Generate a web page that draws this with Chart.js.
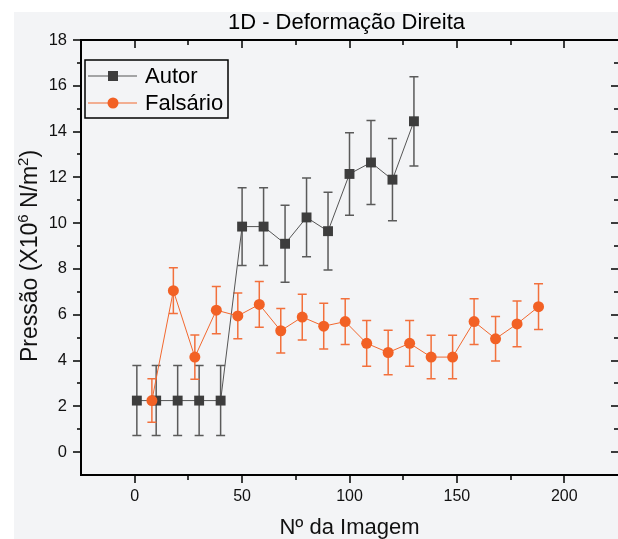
<!DOCTYPE html>
<html>
<head>
<meta charset="utf-8">
<script src="https://cdn.jsdelivr.net/npm/chart.js@4.4.1/dist/chart.umd.min.js"></script>
<style>
  html, body { margin: 0; padding: 0; background: #ffffff; }
  canvas { display: block; }
</style>
</head>
<body>
<canvas id="pressChart" width="618" height="539"></canvas>
<script>
// values
const autorX = [1, 10, 20, 30, 40, 50, 60, 70, 80, 90, 100, 110, 120, 130];
const autorY = [2.25, 2.25, 2.25, 2.25, 2.25, 9.85, 9.85, 9.1, 10.25, 9.65, 12.15, 12.65, 11.9, 14.45];
const autorErr = [1.53, 1.53, 1.53, 1.53, 1.53, 1.7, 1.7, 1.68, 1.72, 1.7, 1.8, 1.83, 1.8, 1.95];

const falsX = [8, 18, 28, 38, 48, 58, 68, 78, 88, 98, 108, 118, 128, 138, 148, 158, 168, 178, 188];
const falsY = [2.25, 7.05, 4.15, 6.2, 5.95, 6.45, 5.3, 5.9, 5.5, 5.7, 4.75, 4.35, 4.75, 4.15, 4.15, 5.7, 4.95, 5.6, 6.35];
const falsErr = [0.95, 1.0, 0.97, 1.03, 1.0, 1.0, 0.97, 1.0, 1.0, 1.0, 1.0, 0.97, 1.0, 0.95, 0.95, 1.0, 0.97, 1.0, 1.0];

const xTicks = [0, 50, 100, 150, 200];
const xMinor = [25, 75, 125, 175];
const yTicks = [0, 2, 4, 6, 8, 10, 12, 14, 16, 18];
const yMinor = [1, 3, 5, 7, 9, 11, 13, 15, 17];

const FONT = "'Liberation Sans', Arial, sans-serif";
const BG = "#f3f4f6";

function toPoints(xs, ys) {
    return xs.map(function (x, i) { return { x: x, y: ys[i] }; });
}

const bgPlugin = {
    id: "bg",
    beforeDraw: function (chart) {
        const ctx = chart.ctx;
        ctx.save();
        ctx.fillStyle = "#ffffff";
        ctx.fillRect(0, 0, chart.width, chart.height);
        ctx.fillStyle = BG;
        ctx.fillRect(14, 12, chart.width - 14, chart.height - 12);
        ctx.restore();
    }
};

// error bars, drawn under the markers
const errorBars = {
    id: "errorBars",
    beforeDatasetsDraw: function (chart) {
        const ctx = chart.ctx;
        const ys = chart.scales.y;
        ctx.save();
        chart.data.datasets.forEach(function (ds, i) {
            const meta = chart.getDatasetMeta(i);
            ctx.strokeStyle = ds.errColor;
            ctx.lineWidth = 1.5;
            meta.data.forEach(function (pt, j) {
                const v = ds.data[j].y;
                const e = ds.err[j];
                const top = ys.getPixelForValue(v + e);
                const bot = ys.getPixelForValue(v - e);
                ctx.beginPath();
                ctx.moveTo(pt.x, top);
                ctx.lineTo(pt.x, bot);
                ctx.moveTo(pt.x - 4.5, top);
                ctx.lineTo(pt.x + 4.5, top);
                ctx.moveTo(pt.x - 4.5, bot);
                ctx.lineTo(pt.x + 4.5, bot);
                ctx.stroke();
            });
        });
        ctx.restore();
    }
};

// y title with real superscripts
function drawYTitle(ctx, x, cy) {
    const parts = [
        ["Pressão (X10", 23, 0],
        ["6", 15, -9],
        [" N/m", 23, 0],
        ["2", 15, -9],
        [")", 23, 0]
    ];
    let total = 0;
    parts.forEach(function (p) {
        ctx.font = p[1] + "px " + FONT;
        p.push(ctx.measureText(p[0]).width);
        total += p[3];
    });
    ctx.save();
    ctx.translate(x, cy);
    ctx.rotate(-Math.PI / 2);
    ctx.fillStyle = "#111111";
    ctx.textAlign = "left";
    ctx.textBaseline = "alphabetic";
    let pos = -total / 2;
    parts.forEach(function (p) {
        ctx.font = p[1] + "px " + FONT;
        ctx.fillText(p[0], pos, p[2]);
        pos += p[3];
    });
    ctx.restore();
}

// frame, ticks, title and legend
const framePlugin = {
    id: "frame",
    afterDraw: function (chart) {
        const ctx = chart.ctx;
        const a = chart.chartArea;
        const xs = chart.scales.x;
        const ys = chart.scales.y;
        ctx.save();
        ctx.strokeStyle = "#000000";
        ctx.lineWidth = 2;
        ctx.beginPath();
        ctx.moveTo(a.left, a.top);
        ctx.lineTo(a.right, a.top);
        ctx.moveTo(a.left, a.top - 1);
        ctx.lineTo(a.left, a.bottom + 1);
        ctx.moveTo(a.left - 1, a.bottom);
        ctx.lineTo(a.right, a.bottom);
        ctx.stroke();

        ctx.lineWidth = 1.5;
        ctx.beginPath();
        xTicks.forEach(function (v) {
            const px = Math.round(xs.getPixelForValue(v));
            ctx.moveTo(px, a.bottom); ctx.lineTo(px, a.bottom + 8);
            ctx.moveTo(px, a.top); ctx.lineTo(px, a.top + 8);
        });
        xMinor.forEach(function (v) {
            const px = Math.round(xs.getPixelForValue(v));
            ctx.moveTo(px, a.bottom); ctx.lineTo(px, a.bottom + 5);
            ctx.moveTo(px, a.top); ctx.lineTo(px, a.top + 5);
        });
        yTicks.forEach(function (v) {
            const py = Math.round(ys.getPixelForValue(v));
            ctx.moveTo(a.left, py); ctx.lineTo(a.left - 8, py);
            ctx.moveTo(a.right, py); ctx.lineTo(a.right - 7, py);
        });
        yMinor.forEach(function (v) {
            const py = Math.round(ys.getPixelForValue(v));
            ctx.moveTo(a.left, py); ctx.lineTo(a.left - 4, py);
            ctx.moveTo(a.right, py); ctx.lineTo(a.right - 4, py);
        });
        ctx.stroke();

        // title
        ctx.fillStyle = "#000000";
        ctx.font = "22px " + FONT;
        ctx.textAlign = "center";
        ctx.textBaseline = "middle";
        ctx.fillText("1D - Deformação Direita", (a.left + a.right) / 2 - 3, 23);

        drawYTitle(ctx, 37, 256);

        // legend
        ctx.fillStyle = BG;
        ctx.fillRect(85, 60, 143, 58);
        ctx.strokeStyle = "#000000";
        ctx.lineWidth = 1.5;
        ctx.strokeRect(85, 60, 143, 58);
        const rows = [76, 103];
        chart.data.datasets.forEach(function (ds, i) {
            const y = rows[i];
            ctx.strokeStyle = ds.borderColor;
            ctx.lineWidth = 1.2;
            ctx.beginPath();
            ctx.moveTo(88, y);
            ctx.lineTo(137, y);
            ctx.stroke();
            ctx.fillStyle = ds.pointBackgroundColor;
            if (ds.pointStyle === "rect") {
                ctx.fillRect(108, y - 5, 10, 10);
            } else {
                ctx.beginPath();
                ctx.arc(113, y, 5.5, 0, Math.PI * 2);
                ctx.fill();
            }
            ctx.fillStyle = "#000000";
            ctx.font = "22px " + FONT;
            ctx.textAlign = "left";
            ctx.textBaseline = "middle";
            ctx.fillText(ds.label, 145, y + 1);
        });
        ctx.restore();
    }
};

const chart = new Chart(document.getElementById("pressChart"), {
    type: "scatter",
    data: {
        datasets: [
            {
                label: "Autor",
                data: toPoints(autorX, autorY),
                err: autorErr,
                errColor: "#5a5a5a",
                showLine: true,
                borderColor: "#555555",
                borderWidth: 1,
                pointStyle: "rect",
                pointRadius: 7,
                pointBackgroundColor: "#3d3d3d",
                pointBorderColor: "#3d3d3d",
                pointBorderWidth: 0,
                order: 1
            },
            {
                label: "Falsário",
                data: toPoints(falsX, falsY),
                err: falsErr,
                errColor: "#f2703c",
                showLine: true,
                borderColor: "#f2682f",
                borderWidth: 1,
                pointStyle: "circle",
                pointRadius: 5.5,
                pointBackgroundColor: "#f26125",
                pointBorderColor: "#f26125",
                pointBorderWidth: 0,
                order: 0
            }
        ]
    },
    options: {
        responsive: false,
        animation: false,
        devicePixelRatio: 1,
        layout: { autoPadding: false, padding: { top: 40, left: 0, right: 0, bottom: 0 } },
        plugins: {
            legend: { display: false },
            title: { display: false },
            tooltip: { enabled: false }
        },
        scales: {
            x: {
                type: "linear",
                min: -25,
                max: 225,
                afterBuildTicks: function (scale) {
                    scale.ticks = xTicks.map(function (v) { return { value: v }; });
                },
                afterFit: function (scale) {
                    scale.height = 64;
                    scale.paddingLeft = 0;
                    scale.paddingRight = 0;
                },
                grid: { display: false, drawTicks: false },
                border: { display: false },
                ticks: {
                    padding: 12,
                    color: "#111111",
                    font: { family: FONT, size: 16 }
                },
                title: {
                    display: true,
                    text: "Nº da Imagem",
                    color: "#111111",
                    font: { family: FONT, size: 22, lineHeight: 1 },
                    padding: { top: 0, bottom: 0 }
                }
            },
            y: {
                type: "linear",
                min: -1,
                max: 18,
                afterBuildTicks: function (scale) {
                    scale.ticks = yTicks.map(function (v) { return { value: v }; });
                },
                afterFit: function (scale) {
                    scale.width = 81;
                    scale.paddingTop = 0;
                    scale.paddingBottom = 0;
                },
                grid: { display: false, drawTicks: false },
                border: { display: false },
                ticks: {
                    padding: 14,
                    color: "#111111",
                    font: { family: FONT, size: 16.5 }
                },
                title: { display: false }
            }
        }
    },
    plugins: [bgPlugin, errorBars, framePlugin]
});
</script>
</body>
</html>
